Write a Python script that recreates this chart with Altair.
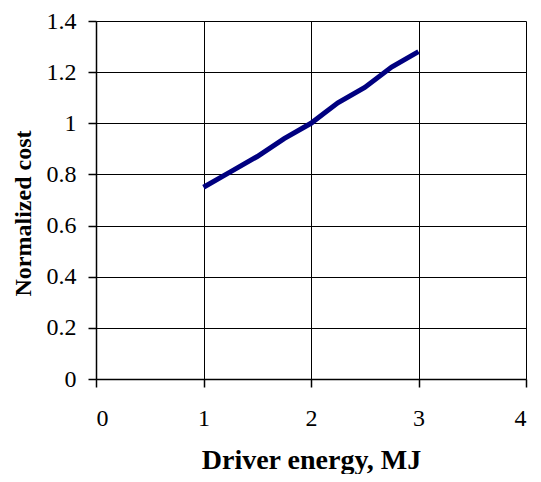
import altair as alt
import pandas as pd

energy = [1.0, 1.25, 1.5, 1.75, 2.0, 2.125, 2.25, 2.5, 2.75, 3.0]
cost = [0.75, 0.81, 0.87, 0.94, 1.0, 1.04, 1.08, 1.14, 1.22, 1.28]
x_ticks = [0, 1, 2, 3, 4]
y_ticks = [0, 0.2, 0.4, 0.6, 0.8, 1.0, 1.2, 1.4]

df = pd.DataFrame({"energy": energy, "cost": cost})

chart = alt.Chart(df).mark_line(color="#000080", strokeWidth=5, strokeCap="butt").encode(
    x=alt.X("energy:Q", scale=alt.Scale(domain=[0, 4], nice=False, zero=False),
            axis=alt.Axis(title="Driver energy, MJ", values=x_ticks, format="~g",
                          labelPadding=19, tickSize=8, titleFontSize=28,
                          titleY=89, titleBaseline="alphabetic")),
    y=alt.Y("cost:Q", scale=alt.Scale(domain=[0, 1.4], nice=False),
            axis=alt.Axis(title="Normalized cost", values=y_ticks, format="~g",
                          labelPadding=12, tickSize=8, titleFontSize=24,
                          titleX=-66, titleY=192, titleAngle=-90,
                          titleAlign="center", titleBaseline="alphabetic")),
).properties(
    width=430, height=358,
    autosize=alt.AutoSizeParams(type="none"),
    padding={"left": 88, "top": 13, "right": 7, "bottom": 95},
).configure_view(stroke=None).configure_axis(
    grid=True, gridColor="black", gridOpacity=1, gridWidth=1,
    domainColor="black", domainWidth=1.5, tickColor="black", tickWidth=1.5,
    labelFont="Liberation Serif", labelFontSize=24, labelColor="black",
    titleFont="Liberation Serif", titleFontWeight="bold", titleColor="black",
)

chart.save("out.html", embed_options={"renderer": "svg", "actions": False})
